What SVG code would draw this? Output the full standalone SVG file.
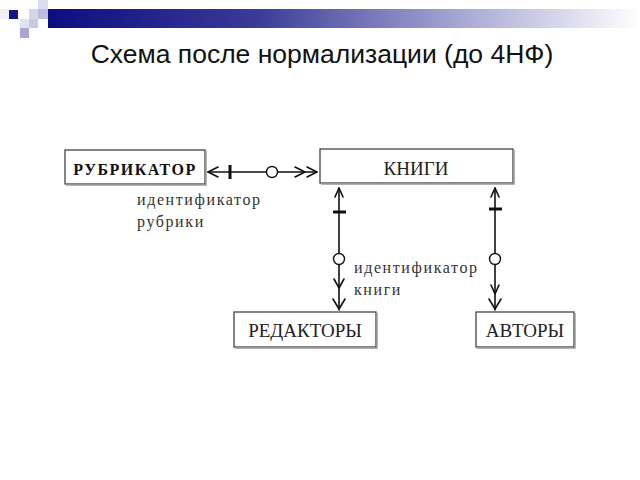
<svg xmlns="http://www.w3.org/2000/svg" width="640" height="480" viewBox="0 0 640 480">
<defs>
<linearGradient id="bar" x1="0" y1="0" x2="1" y2="0">
<stop offset="0" stop-color="#0d0d80"/>
<stop offset="0.35" stop-color="#3a3a98"/>
<stop offset="0.7" stop-color="#a8a8d4"/>
<stop offset="1" stop-color="#ffffff"/>
</linearGradient>
<style>
.box{fill:#fff;stroke:#444;stroke-width:1.3}
.shadow{fill:none;stroke:#999;stroke-width:1.5}
.ln{fill:none;stroke:#111;stroke-width:1.6;stroke-linecap:round;stroke-linejoin:round}
.tick{fill:none;stroke:#111;stroke-width:3}
.circ{fill:#fff;stroke:#111;stroke-width:1.4}
.nt{font-family:"Liberation Serif","DejaVu Serif",serif;font-size:19px;fill:#222;text-anchor:middle}
.lbl{font-family:"Liberation Serif","DejaVu Serif",serif;font-size:16px;fill:#333;letter-spacing:1.6px}
</style>
</defs>
<g id="header">
<rect x="48" y="9" width="592" height="19" fill="url(#bar)"/>
<rect x="9" y="10" width="9" height="9" fill="#14148a"/>
<rect x="0" y="9" width="8" height="10" fill="#eeeef6"/>
<rect x="29" y="9" width="9" height="10" fill="#d6d6e6"/>
<rect x="38" y="0" width="10" height="9" fill="#dcdcee"/>
<rect x="38" y="9" width="10" height="10" fill="#bcbcdc"/>
<rect x="20" y="19" width="9" height="9" fill="#e2e2f0"/>
<rect x="29" y="19" width="9" height="9" fill="#c8c8e2"/>
<rect x="20" y="28" width="9" height="10" fill="#a8a8d0"/>
</g>
<text x="322" y="63" font-family="Liberation Sans, Arial, sans-serif" font-size="26.5" fill="#111" text-anchor="middle">Схема после нормализации (до 4НФ)</text>
<g id="node-rubrikator">
<rect class="box" x="65" y="150" width="140" height="34"/>
<path class="shadow" d="M206,151 V185 H66"/>
<text x="135" y="175" font-family="Liberation Serif, serif" font-size="16" font-weight="bold" fill="#111" text-anchor="middle" letter-spacing="1.5">РУБРИКАТОР</text>
</g>
<g id="node-knigi">
<rect class="box" x="320" y="149" width="193" height="34"/>
<path class="shadow" d="M514,150 V184 H321"/>
<text class="nt" x="416" y="175">КНИГИ</text>
</g>
<g id="node-redaktory">
<rect class="box" x="234" y="312" width="142" height="35"/>
<path class="shadow" d="M377,313 V348 H235"/>
<text class="nt" x="305" y="337">РЕДАКТОРЫ</text>
</g>
<g id="node-avtory">
<rect class="box" x="476" y="312" width="98" height="35"/>
<path class="shadow" d="M575,313 V348 H477"/>
<text class="nt" x="525" y="337">АВТОРЫ</text>
</g>
<g id="connectors">
<path class="ln" d="M208,172 H317"/>
<path class="ln" d="M218,167 L208,172 L218,177"/>
<path class="tick" d="M230,165 V179"/>
<circle class="circ" cx="272" cy="172" r="5.5"/>
<path class="ln" d="M295,167 L305,172 L295,177"/>
<path class="ln" d="M307,167 L317,172 L307,177"/>
<path class="ln" d="M339,188 V310"/>
<path class="ln" d="M335,197 L339,188 L343,197"/>
<path class="tick" d="M333,212 H346"/>
<circle class="circ" cx="339" cy="259" r="5.5"/>
<path class="ln" d="M334,279 L339,288 L344,279"/>
<path class="ln" d="M333,299 L339,309 L345,299"/>
<path class="ln" d="M495,188 V310"/>
<path class="ln" d="M491,197 L495,188 L499,197"/>
<path class="tick" d="M489,209 H502"/>
<circle class="circ" cx="495" cy="259" r="5.5"/>
<path class="ln" d="M491,285 L495,294 L499,285"/>
<path class="ln" d="M489,299 L495,309 L501,299"/>
</g>
<g id="labels">
<text class="lbl" x="137" y="205">идентификатор</text>
<text class="lbl" x="137" y="227">рубрики</text>
<text class="lbl" x="354" y="273">идентификатор</text>
<text class="lbl" x="354" y="295">книги</text>
</g>
</svg>
